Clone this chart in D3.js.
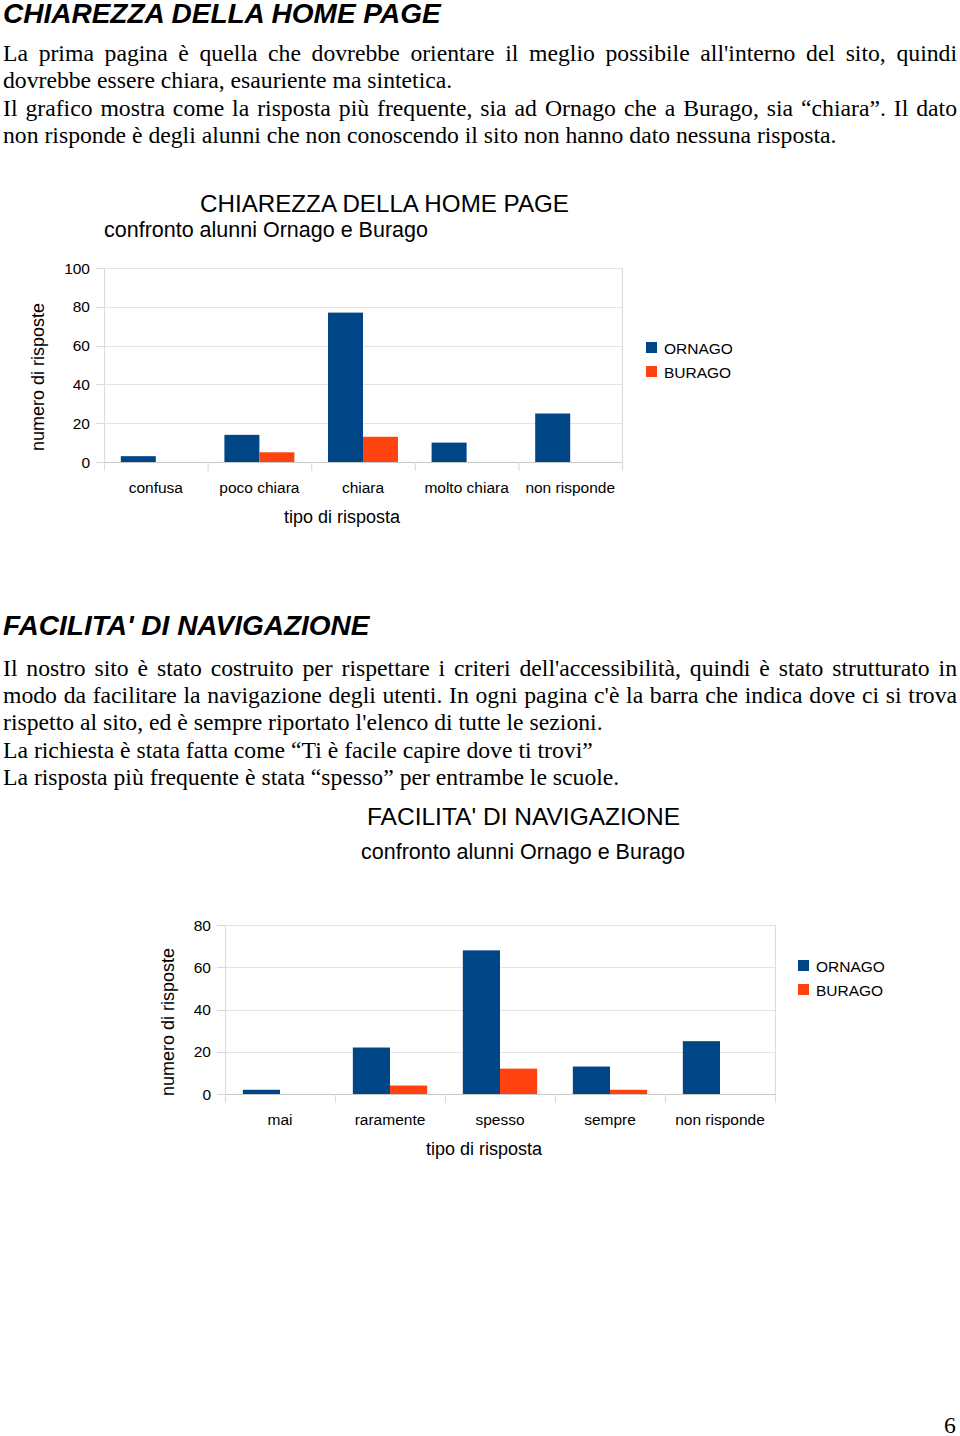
<!DOCTYPE html>
<html><head><meta charset="utf-8">
<script src="https://cdn.jsdelivr.net/npm/d3@7"></script>
<style>
html,body{margin:0;padding:0;background:#fff;}
body{width:960px;height:1436px;position:relative;overflow:hidden;}
.h{position:absolute;left:3px;font-family:"Liberation Sans",Arial,sans-serif;font-weight:bold;font-style:italic;font-size:28px;line-height:28px;color:#000;white-space:nowrap;}
.p{position:absolute;left:3px;width:954px;font-family:"Liberation Serif","Times New Roman",serif;font-size:23.7px;line-height:26px;color:#000;white-space:nowrap;}
.j{text-align:justify;text-align-last:justify;}
svg{position:absolute;left:0;top:0;}
</style></head>
<body>
<div class="h" style="top:0px">CHIAREZZA DELLA HOME PAGE</div>
<div class="p j" style="top:40px">La prima pagina è quella che dovrebbe orientare il meglio possibile all'interno del sito, quindi</div>
<div class="p" style="top:67px">dovrebbe essere chiara, esauriente ma sintetica.</div>
<div class="p j" style="top:95px">Il grafico mostra come la risposta più frequente, sia ad Ornago che a Burago, sia “chiara”. Il dato</div>
<div class="p" style="top:122px">non risponde è degli alunni che non conoscendo il sito non hanno dato nessuna risposta.</div>

<div class="h" style="top:612px">FACILITA' DI NAVIGAZIONE</div>
<div class="p j" style="top:655px">Il nostro sito è stato costruito per rispettare i criteri dell'accessibilità, quindi è stato strutturato in</div>
<div class="p j" style="top:682px">modo da facilitare la navigazione degli utenti. In ogni pagina c'è la barra che indica dove ci si trova</div>
<div class="p" style="top:709px">rispetto al sito, ed è sempre riportato l'elenco di tutte le sezioni.</div>
<div class="p" style="top:737px">La richiesta è stata fatta come “Ti è facile capire dove ti trovi”</div>
<div class="p" style="top:764px">La risposta più frequente è stata “spesso” per entrambe le scuole.</div>
<div class="p" style="top:1417px;left:944px;width:14px;line-height:16px">6</div>

<svg id="chart" width="960" height="1436"></svg>
<script>
// ---------- DATA ----------
const seriesNames = ["ORNAGO", "BURAGO"];
const seriesColors = ["#004586", "#ff420e"];

const chart1Categories = ["confusa", "poco chiara", "chiara", "molto chiara", "non risponde"];
const chart1Ornago = [3, 14, 77, 10, 25];
const chart1Burago = [0, 5, 13, 0, 0];
const chart1Ticks = [0, 20, 40, 60, 80, 100];

const chart2Categories = ["mai", "raramente", "spesso", "sempre", "non risponde"];
const chart2Ornago = [2, 22, 68, 13, 25];
const chart2Burago = [0, 4, 12, 2, 0];
const chart2Ticks = [0, 20, 40, 60, 80];

// ---------- DRAW ----------
const svg = d3.select("#chart");
const sans = "'Liberation Sans', Arial, sans-serif";

function drawChart(cfg) {
  const g = svg.append("g");
  const x = d3.scaleBand().domain(cfg.categories).range([cfg.left, cfg.right]).padding(0);
  const inner = d3.scaleBand().domain(seriesNames).range([0, x.bandwidth()]).paddingInner(0).paddingOuter(0.48);
  const y = d3.scaleLinear().domain([0, cfg.max]).range([cfg.bottom, cfg.top]);

  // gridlines
  g.selectAll("line.grid").data(cfg.ticks).join("line")
    .attr("x1", cfg.left).attr("x2", cfg.right)
    .attr("y1", d => Math.round(y(d)) + 0.5).attr("y2", d => Math.round(y(d)) + 0.5)
    .attr("stroke", d => d === 0 ? "#c8c8c8" : "#e3e3e3").attr("stroke-width", 1.2);
  // left tick stubs
  g.selectAll("line.ytick").data(cfg.ticks).join("line")
    .attr("x1", cfg.left - 8).attr("x2", cfg.left)
    .attr("y1", d => Math.round(y(d)) + 0.5).attr("y2", d => Math.round(y(d)) + 0.5)
    .attr("stroke", "#d8d8d8");
  // vertical axis + right border
  [cfg.left, cfg.right].forEach(xx => g.append("line")
    .attr("x1", xx + 0.5).attr("x2", xx + 0.5).attr("y1", cfg.top).attr("y2", cfg.bottom + 9)
    .attr("stroke", "#dcdcdc").attr("stroke-width", 1.2));
  // category boundary ticks
  g.selectAll("line.xtick").data(cfg.categories.slice(1)).join("line")
    .attr("x1", d => x(d) + 0.5).attr("x2", d => x(d) + 0.5)
    .attr("y1", cfg.bottom).attr("y2", cfg.bottom + 9)
    .attr("stroke", "#dcdcdc").attr("stroke-width", 1.2);

  // bars
  const data = cfg.categories.map((c, i) => ({c, vals: [cfg.ornago[i], cfg.burago[i]]}));
  const groups = g.selectAll("g.cat").data(data).join("g").attr("transform", d => `translate(${x(d.c)},0)`);
  groups.selectAll("rect").data(d => d.vals.map((v, k) => ({v, k}))).join("rect")
    .attr("x", d => inner(seriesNames[d.k]))
    .attr("width", inner.bandwidth())
    .attr("y", d => y(d.v))
    .attr("height", d => cfg.bottom - y(d.v))
    .attr("fill", d => seriesColors[d.k]);

  // y labels
  g.selectAll("text.yl").data(cfg.ticks).join("text")
    .attr("x", cfg.left - 14).attr("y", d => y(d)).attr("dy", "0.36em")
    .attr("text-anchor", "end").attr("font-family", sans).attr("font-size", 15.5).text(d => d);
  // x labels
  g.selectAll("text.xl").data(cfg.categories).join("text")
    .attr("x", d => x(d) + x.bandwidth() / 2).attr("y", cfg.bottom + 25).attr("dy", "0.36em")
    .attr("text-anchor", "middle").attr("font-family", sans).attr("font-size", 15.5).text(d => d);
  // axis titles
  g.append("text").attr("x", cfg.xTitleX).attr("y", cfg.bottom + 55).attr("dy", "0.36em")
    .attr("text-anchor", "middle").attr("font-family", sans).attr("font-size", 18).text("tipo di risposta");
  g.append("text").attr("transform", `translate(${cfg.yTitleX},${cfg.yTitleY}) rotate(-90)`).attr("dy", "0.36em")
    .attr("text-anchor", "middle").attr("font-family", sans).attr("font-size", 18).text("numero di risposte");
  // titles
  g.append("text").attr("x", cfg.titleX).attr("y", cfg.titleY).attr("dy", "0.36em")
    .attr("font-family", sans).attr("font-size", 24).attr("textLength", cfg.titleW).attr("lengthAdjust", "spacingAndGlyphs")
    .text(cfg.title);
  g.append("text").attr("x", cfg.subX).attr("y", cfg.subY).attr("dy", "0.36em")
    .attr("font-family", sans).attr("font-size", 21.5).text("confronto alunni Ornago e Burago");
  // legend
  const lg = g.selectAll("g.lg").data(seriesNames).join("g")
    .attr("transform", (d, i) => `translate(${cfg.legX},${cfg.legY + i * 24})`);
  lg.append("rect").attr("x", 0).attr("y", -6).attr("width", 11).attr("height", 11).attr("fill", (d, i) => seriesColors[i]);
  lg.append("text").attr("x", 18).attr("y", 0).attr("dy", "0.36em").attr("font-family", sans).attr("font-size", 15.5).text(d => d);
}

drawChart({
  categories: chart1Categories, ornago: chart1Ornago, burago: chart1Burago, ticks: chart1Ticks, max: 100,
  left: 104, right: 622, top: 268, bottom: 462,
  xTitleX: 342, yTitleX: 38, yTitleY: 377,
  title: "CHIAREZZA DELLA HOME PAGE", titleX: 200, titleY: 203, titleW: 369,
  subX: 104, subY: 229, legX: 646, legY: 348
});
drawChart({
  categories: chart2Categories, ornago: chart2Ornago, burago: chart2Burago, ticks: chart2Ticks, max: 80,
  left: 225, right: 775, top: 925, bottom: 1094,
  xTitleX: 484, yTitleX: 168, yTitleY: 1022,
  title: "FACILITA' DI NAVIGAZIONE", titleX: 367, titleY: 816, titleW: 313,
  subX: 361, subY: 851, legX: 798, legY: 966
});
</script>
</body></html>
